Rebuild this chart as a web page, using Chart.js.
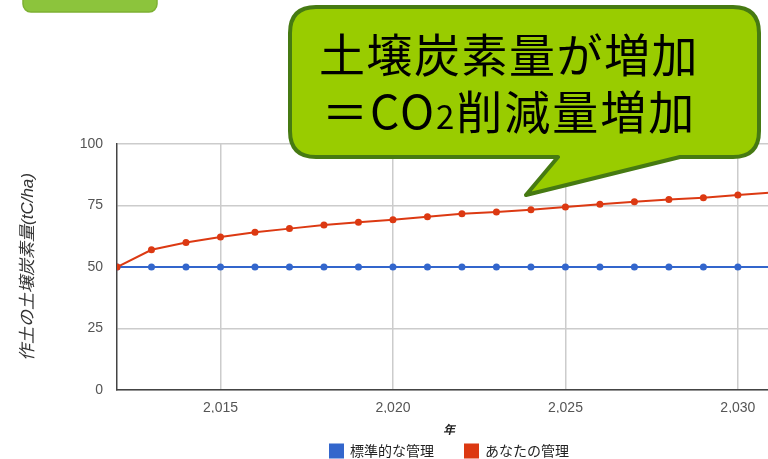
<!DOCTYPE html>
<html>
<head>
<meta charset="utf-8">
<script src="https://cdn.jsdelivr.net/npm/chart.js@4.4.1/dist/chart.umd.min.js"></script>
<style>
body { margin: 0; background: #fff; overflow: hidden; }
#frame { position: relative; width: 768px; height: 459px; overflow: hidden; }
#chart { position: absolute; left: 0; top: 0; }
#callout { position: absolute; left: 0; top: 0; pointer-events: none; }
</style>
</head>
<body>
<div id="frame">
<canvas id="chart" width="898" height="459"></canvas>
<svg id="callout" width="768" height="459">
    <rect x="23" y="-20" width="134" height="32" rx="8" fill="#8cc43c" stroke="#7db032" stroke-width="1.5"/>
    <path d="M 316 7 H 733 Q 759 7 759 33 V 131 Q 759 157 733 157 H 680 L 526 195 L 558 157 H 316 Q 290 157 290 131 V 33 Q 290 7 316 7 Z"
          fill="#99cc00" stroke="#467a12" stroke-width="4" stroke-linejoin="round"/>
    <text x="319" y="72" font-size="46" letter-spacing="1.5" font-family="'Noto Sans CJK JP'" fill="#000">土壌炭素量が増加</text>
    <text x="322" y="129" font-size="46" letter-spacing="2" font-family="'Noto Sans CJK JP'" fill="#000">＝CO<tspan font-size="33">2</tspan>削減量増加</text>
</svg>
</div>
<script>
const years = [2012, 2013, 2014, 2015, 2016, 2017, 2018, 2019, 2020, 2021,
               2022, 2023, 2024, 2025, 2026, 2027, 2028, 2029, 2030, 2031];
const standardCarbon = [50, 50, 50, 50, 50, 50, 50, 50, 50, 50,
                        50, 50, 50, 50, 50, 50, 50, 50, 50, 50];
const yourCarbon = [50, 57.0, 60.0, 62.2, 64.1, 65.6, 67.1, 68.2, 69.2, 70.4,
                    71.6, 72.4, 73.3, 74.4, 75.5, 76.5, 77.4, 78.2, 79.3, 80.3];
const xTickYears = [2015, 2020, 2025, 2030];
const yTickValues = [0, 25, 50, 75, 100];

const seriesLabels = ['標準的な管理', 'あなたの管理'];
const blue = '#3366cc';
const red = '#dc3912';

const toPoints = (values) => values.map((v, i) => ({ x: years[i], y: v }));

// legend sits lower than chart.js would put it with this much item spacing,
// and is centred under the plot area instead of the padded canvas
const legendPlacement = {
    id: 'legendPlacement',
    afterInit(chart) {
        const legend = chart.legend;
        const fit = legend.fit.bind(legend);
        legend.fit = () => { fit(); legend.height = 46; };
    },
    afterLayout(chart) {
        const legend = chart.legend;
        legend.left += 59;
        legend.right += 59;
    }
};

const ctx = document.getElementById('chart').getContext('2d');
const chart = new Chart(ctx, {
    type: 'line',
    data: {
        datasets: [
            {
                label: seriesLabels[0],
                data: toPoints(standardCarbon),
                borderColor: blue,
                backgroundColor: blue,
                pointBackgroundColor: blue,
                borderWidth: 2,
                pointRadius: 3.5,
                pointBorderWidth: 0,
                order: 2,
            },
            {
                label: seriesLabels[1],
                data: toPoints(yourCarbon),
                borderColor: red,
                backgroundColor: red,
                pointBackgroundColor: red,
                borderWidth: 2,
                pointRadius: 3.5,
                pointBorderWidth: 0,
                order: 1,
            }
        ]
    },
    options: {
        responsive: false,
        animation: false,
        layout: { padding: { top: 144, right: 117, left: 0, bottom: 0 } },
        scales: {
            x: {
                type: 'linear',
                min: 2012,
                max: 2031.25,
                afterBuildTicks: (scale) => { scale.ticks = xTickYears.map(v => ({ value: v })); },
                afterFit: (scale) => { scale.height = 23; },
                ticks: {
                    padding: 10,
                    color: '#555',
                    font: { family: "'Liberation Sans', Arial", size: 14 },
                    callback: (value) => value.toLocaleString('en-US'),
                },
                grid: { color: '#cccccc', lineWidth: 1.5, drawTicks: false },
                border: { display: true, color: '#444', width: 1.5 },
                title: {
                    display: true,
                    text: '年',
                    color: '#222',
                    font: { family: "'Noto Sans CJK JP'", size: 12, style: 'italic', weight: 'bold' },
                    padding: { top: 0, bottom: -24 },
                },
            },
            y: {
                min: 0,
                max: 100,
                afterBuildTicks: (scale) => { scale.ticks = yTickValues.map(v => ({ value: v })); },
                afterFit: (scale) => { scale.width = 117; },
                ticks: {
                    padding: 14,
                    color: '#555',
                    font: { family: "'Liberation Sans', Arial", size: 14 },
                },
                grid: { color: '#cccccc', lineWidth: 1.5, drawTicks: false },
                border: { display: true, color: '#444', width: 1.5 },
                title: {
                    display: true,
                    text: '作土の土壌炭素量(tC/ha)',
                    color: '#333',
                    font: { family: "'Liberation Sans', 'Noto Sans CJK JP'", size: 17, style: 'italic' },
                    padding: { top: 18, bottom: 0 },
                },
            }
        },
        plugins: {
            legend: {
                position: 'bottom',
                labels: {
                    boxWidth: 13,
                    boxHeight: 13,
                    padding: 31,
                    color: '#222',
                    font: { family: "'Noto Sans CJK JP'", size: 14 },
                    sort: (a, b) => a.datasetIndex - b.datasetIndex,
                },
            },
            tooltip: { enabled: false },
        }
    },
    plugins: [legendPlacement]
});
</script>
</body>
</html>
